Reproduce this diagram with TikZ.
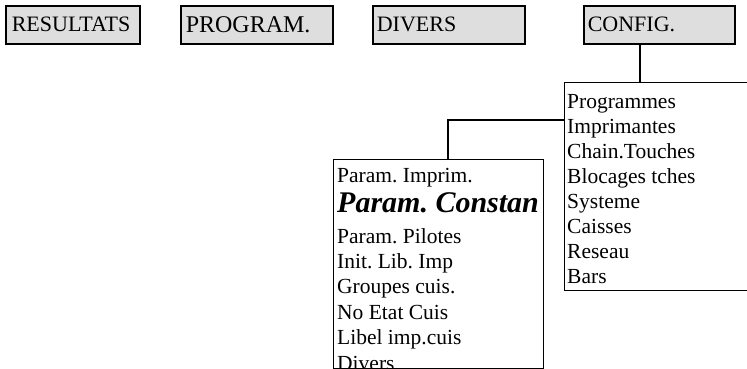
\documentclass[tikz,border=0pt]{standalone}
\usepackage{fontspec}
\setmainfont{Liberation Serif}
\usepackage{tikz}
\usepackage{xcolor}
\definecolor{menugray}{HTML}{DEDEDE}
\frenchspacing

\begin{document}
\begin{tikzpicture}[x=1pt,y=-1pt,
  menubox/.style={draw,line width=1.6pt,fill=menugray,anchor=north west,
    minimum height=38pt,inner xsep=4pt,inner ysep=0pt,align=left,
    font=\fontsize{22}{25}\selectfont},
  listbox/.style={draw,line width=1.3pt,anchor=north west,inner sep=0pt},
  item/.style={anchor=base west,inner sep=0pt,font=\fontsize{21.5}{25}\selectfont},
  link/.style={line width=1.3pt}]
\clip (0,0) rectangle (747,369);
\node [menubox,inner xsep=6pt,text width=122pt] (resultats) at (5,5) {RESULTATS};
\node [menubox,inner xsep=5pt,text width=142pt,font=\fontsize{24}{25}\selectfont] (program) at (180,5) {PROGRAM.};
\node [menubox,text width=144pt] (divers) at (372,5) {DIVERS};
\node [menubox,text width=143pt] (config) at (583,5) {CONFIG.};
\foreach \t [count=\i] in {Programmes,Imprimantes,Chain.Touches,Blocages tches,
  Systeme,Caisses,Reseau,Bars}
  \node [item] (cfg\i) at (567,83+25*\i) {\t};
\node [listbox,minimum width=200pt,minimum height=208pt] (cfgbox) at (564,82) {};
\begin{scope}
\clip (333,159) rectangle (543,368);
\node [item] (par1) at (337,182) {Param. Imprim.};
\node [item,font=\fontsize{30}{30}\bfseries\itshape] (par2) at (337,212) {Param. Constan};
\foreach \t [count=\i from 3] in {Param. Pilotes,Init. Lib. Imp,Groupes cuis.,
  No Etat Cuis,Libel imp.cuis,Divers}
  \node [item] (par\i) at (337,243+25.4*\i-76.2) {\t};
\end{scope}
\node [listbox,minimum width=210pt,minimum height=209pt] (parbox) at (333,159) {};
\draw [link] ([xshift=57pt]config.south west) -- ([xshift=57pt]config.south west |- cfgbox.north);
\draw [link] ([xshift=115pt]parbox.north west) |- ([yshift=-38pt]cfgbox.north west);
\end{tikzpicture}
\end{document}
